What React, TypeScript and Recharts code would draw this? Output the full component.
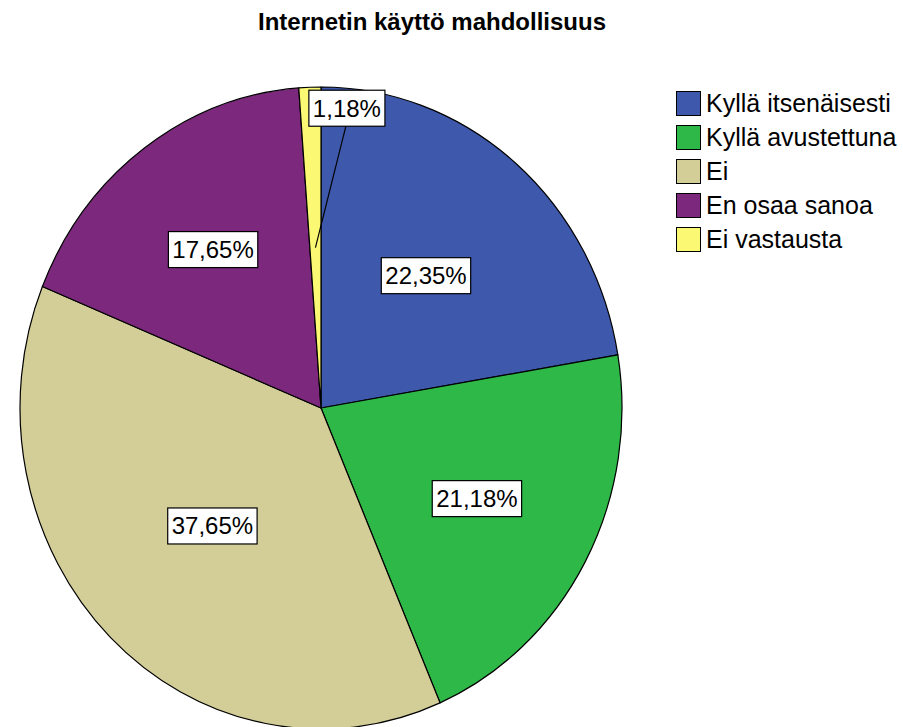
import { PieChart, Pie, Legend } from "recharts";

const CATEGORIES = [
  "Kyllä itsenäisesti",
  "Kyllä avustettuna",
  "Ei",
  "En osaa sanoa",
  "Ei vastausta",
];
const COUNTS = [19, 18, 32, 15, 1];
const COLORS = ["#3E58AC", "#2EB848", "#D3CE97", "#7C287D", "#FBF873"];
// how far out (share of radius) each slice's label box sits
const LABEL_RADIUS = [0.54, 0.59, 0.515, 0.61, 0.5];

const TITLE = "Internetin käyttö mahdollisuus";
const FONT = "'Liberation Sans', Arial, sans-serif";
const Y_SCALE = 321 / 301;
const RAD = Math.PI / 180;

const total = COUNTS.reduce((s, v) => s + v, 0);
const data = CATEGORIES.map((name, i) => ({ name, value: COUNTS[i], fill: COLORS[i] }));

const fmt = (v: number) => ((v / total) * 100).toFixed(2).replace(".", ",");

const charW = (c: string) => (c === "," ? 0.278 : c === "%" ? 0.889 : 0.556);
const textWidth = (s: string, size: number) =>
  s.split("").reduce((w, c) => w + charW(c), 0) * size;

const ellipsePoint = (cx: number, cy: number, r: number, angle: number) => ({
  x: cx + r * Math.cos(-angle * RAD),
  y: cy + r * Y_SCALE * Math.sin(-angle * RAD),
});

const EllipseSector = (props: any) => {
  const { cx, cy, outerRadius, startAngle, endAngle, fill } = props;
  const p1 = ellipsePoint(cx, cy, outerRadius, startAngle);
  const p2 = ellipsePoint(cx, cy, outerRadius, endAngle);
  const large = Math.abs(endAngle - startAngle) > 180 ? 1 : 0;
  const sweep = startAngle > endAngle ? 1 : 0;
  const d = `M${cx},${cy} L${p1.x},${p1.y} A${outerRadius},${outerRadius * Y_SCALE} 0 ${large} ${sweep} ${p2.x},${p2.y} Z`;
  return <path d={d} fill={fill} stroke="#000" strokeWidth={1.2} strokeLinejoin="round" />;
};

const renderLabel = (props: any) => {
  const { cx, cy, midAngle, outerRadius, value, index } = props;
  const text = fmt(value) + "%";
  const w = textWidth(text, 24) + 8;
  const h = 36;
  let bx: number;
  let by: number;
  let line = null;
  if (value / total < 0.05) {
    const edge = ellipsePoint(cx, cy, outerRadius, midAngle);
    const inner = ellipsePoint(cx, cy, outerRadius * LABEL_RADIUS[index], midAngle);
    bx = edge.x - 1;
    by = edge.y + 3;
    line = <line x1={inner.x} y1={inner.y} x2={bx + w / 2 - 1} y2={by + h} stroke="#000" strokeWidth={1.2} />;
  } else {
    const c = ellipsePoint(cx, cy, outerRadius * LABEL_RADIUS[index], midAngle);
    bx = c.x - w / 2;
    by = c.y - h / 2;
  }
  return (
    <g>
      {line}
      <rect x={bx} y={by} width={w} height={h} fill="#fff" stroke="#000" strokeWidth={1.2} />
      <text x={bx + w / 2} y={by + h / 2 + 8.5} textAnchor="middle" fontSize={24} fontFamily={FONT} fill="#000">
        {text}
      </text>
    </g>
  );
};

// legend keeps the data order, not the alphabetical one
const renderLegend = () => (
  <div style={{ fontFamily: FONT }}>
    {CATEGORIES.map((name, i) => (
      <div key={`leg-${i}`} style={{ display: "flex", alignItems: "center", height: 34 }}>
        <div
          style={{
            width: 25,
            height: 25,
            boxSizing: "border-box",
            border: "1.5px solid #000",
            background: COLORS[i],
            marginRight: 5,
            flexShrink: 0,
          }}
        />
        <span style={{ fontSize: 25, color: "#000", whiteSpace: "nowrap" }}>{name}</span>
      </div>
    ))}
  </div>
);

export default function App() {
  return (
    <div style={{ position: "absolute", left: 0, top: 0, width: 903, height: 727, background: "#fff", overflow: "hidden" }}>
      <div
        style={{
          position: "absolute",
          left: 0,
          top: 10,
          width: 864,
          textAlign: "center",
          fontFamily: FONT,
          fontWeight: "bold",
          fontSize: 24,
          lineHeight: "24px",
          color: "#000",
        }}
      >
        {TITLE}
      </div>
      <PieChart width={903} height={727} margin={{ top: 0, right: 0, bottom: 0, left: 0 }}>
        <Pie
          data={data}
          dataKey="value"
          nameKey="name"
          cx={321}
          cy={408}
          outerRadius={301}
          startAngle={90}
          endAngle={-270}
          stroke="#000"
          shape={EllipseSector}
          label={renderLabel}
          labelLine={false}
          isAnimationActive={false}
        />
        <Legend
          content={renderLegend}
          wrapperStyle={{ position: "absolute", left: 676, top: 86, width: 227, bottom: "auto", overflow: "hidden" }}
        />
      </PieChart>
    </div>
  );
}
